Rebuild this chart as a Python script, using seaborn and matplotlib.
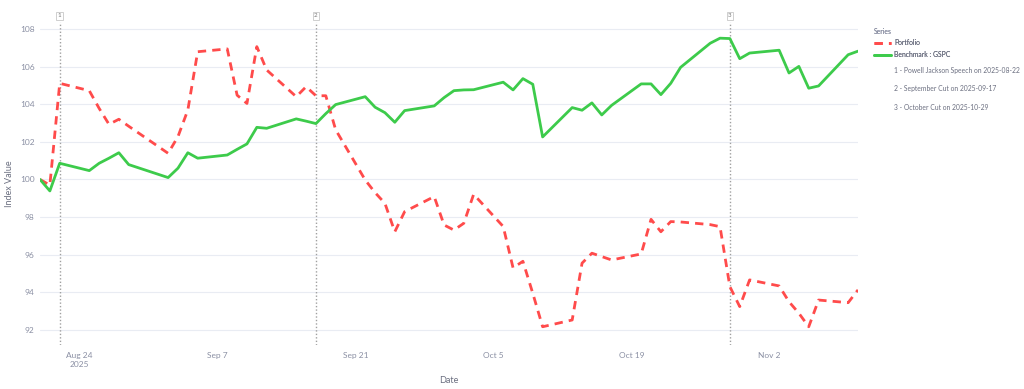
import pandas as pd
import numpy as np
import matplotlib
matplotlib.use("Agg")
import matplotlib.pyplot as plt
import matplotlib.transforms as mtransforms
from matplotlib.lines import Line2D
import seaborn as sns

# Dữ liệu (ngày giao dịch)
dates = [
    "2025-08-20", "2025-08-21", "2025-08-22", "2025-08-25", "2025-08-26", "2025-08-27", "2025-08-28", "2025-08-29",
    "2025-09-02", "2025-09-03", "2025-09-04", "2025-09-05", "2025-09-08", "2025-09-09", "2025-09-10", "2025-09-11",
    "2025-09-12", "2025-09-15", "2025-09-16", "2025-09-17", "2025-09-18", "2025-09-19", "2025-09-22", "2025-09-23",
    "2025-09-24", "2025-09-25", "2025-09-26", "2025-09-29", "2025-09-30", "2025-10-01", "2025-10-02", "2025-10-03",
    "2025-10-06", "2025-10-07", "2025-10-08", "2025-10-09", "2025-10-10", "2025-10-13", "2025-10-14", "2025-10-15",
    "2025-10-16", "2025-10-17", "2025-10-20", "2025-10-21", "2025-10-22", "2025-10-23", "2025-10-24", "2025-10-27",
    "2025-10-28", "2025-10-29", "2025-10-30", "2025-10-31", "2025-11-03", "2025-11-04", "2025-11-05", "2025-11-06",
    "2025-11-07", "2025-11-10", "2025-11-11",
]

portfolio = [
    100.00, 99.70, 105.11, 104.72, 103.78, 102.93, 103.20, 102.83,
    101.39, 102.28, 103.69, 106.79, 106.94, 104.48, 104.04, 107.06,
    105.82, 104.40, 104.93, 104.45, 104.45, 102.64, 99.97, 99.30,
    98.73, 97.22, 98.29, 99.09, 97.58, 97.31, 97.67, 99.21,
    97.50, 95.30, 95.65, 93.95, 92.17, 92.53, 95.55, 96.08,
    95.90, 95.72, 96.04, 97.88, 97.22, 97.76, 97.74, 97.60,
    97.49, 94.30, 93.24, 94.66, 94.34, 93.50, 92.89, 92.17,
    93.59, 93.45, 94.13,
]

benchmark = [
    100.00, 99.39, 100.86, 100.47, 100.86, 101.13, 101.42, 100.79,
    100.10, 100.60, 101.42, 101.13, 101.30, 101.60, 101.89, 102.77,
    102.72, 103.22, 103.10, 102.97, 103.50, 103.98, 104.40, 103.84,
    103.55, 103.04, 103.66, 103.91, 104.35, 104.72, 104.76, 104.77,
    105.17, 104.76, 105.36, 105.06, 102.26, 103.82, 103.68, 104.07,
    103.43, 103.94, 105.08, 105.08, 104.51, 105.11, 105.96, 107.24,
    107.51, 107.49, 106.42, 106.72, 106.87, 105.66, 106.01, 104.85,
    104.97, 106.63, 106.82,
]

event_dates = ["2025-08-22", "2025-09-17", "2025-10-29"]
event_labels = [
    "1 - Powell Jackson Speech on 2025-08-22",
    "2 - September Cut on 2025-09-17",
    "3 - October Cut on 2025-10-29",
]

xtick_dates = ["2025-08-24", "2025-09-07", "2025-09-21", "2025-10-05", "2025-10-19", "2025-11-02"]
xtick_labels = ["Aug 24\n2025", "Sep 7", "Sep 21", "Oct 5", "Oct 19", "Nov 2"]
ytick_values = [92, 94, 96, 98, 100, 102, 104, 106, 108]

RED = "#FF4B4B"
GREEN = "#3DCB4B"
TICK_COLOR = "#8A8FA3"
TEXT_COLOR = "#6B6F80"

sns.set_theme(style="white")
plt.rcParams["font.family"] = ["Lato", "DejaVu Sans"]

df = pd.DataFrame({
    "Date": pd.to_datetime(dates),
    "Portfolio": portfolio,
    "Benchmark : GSPC": benchmark,
})

fig = plt.figure(figsize=(10.24, 3.89), dpi=100)
ax = fig.add_axes([40 / 1024, 1 - 345 / 389, 818 / 1024, 323 / 389])

# Đường danh mục và chỉ số tham chiếu
sns.lineplot(data=df, x="Date", y="Portfolio", ax=ax, color=RED, linewidth=2,
             linestyle=(0, (3, 2.2)), label="Portfolio")
sns.lineplot(data=df, x="Date", y="Benchmark : GSPC", ax=ax, color=GREEN, linewidth=2,
             label="Benchmark : GSPC")

# Các đường sự kiện
trans = mtransforms.blended_transform_factory(ax.transData, ax.transAxes)
for i, d in enumerate(event_dates):
    dt = pd.Timestamp(d)
    ax.axvline(dt, color="#A0A0A0", linewidth=1, linestyle=(0, (1, 1.5)), zorder=1)
    ax.text(dt, 1.012, str(i + 1), transform=trans, ha="center", va="bottom",
            fontsize=4.5, color="#777777",
            bbox=dict(boxstyle="square,pad=0.25", fc="white", ec="#C8C8C8", lw=0.6))

ax.set_xlim(pd.Timestamp(dates[0]), pd.Timestamp(dates[-1]))
ax.set_ylim(91.2, 108.37)
ax.set_yticks(ytick_values)
ax.set_yticklabels([str(v) for v in ytick_values])
ax.set_xticks(pd.to_datetime(xtick_dates))
ax.set_xticklabels(xtick_labels, linespacing=1.3)
ax.tick_params(axis="both", length=0, labelsize=6, colors=TICK_COLOR)
ax.tick_params(axis="x", pad=5)
ax.tick_params(axis="y", pad=4)
ax.grid(axis="y", color="#E9ECF3", linewidth=0.8)
ax.grid(axis="x", visible=False)
for s in ax.spines.values():
    s.set_visible(False)

ax.set_xlabel("Date", fontsize=6.5, color=TEXT_COLOR)
ax.set_ylabel("Index Value", fontsize=6.5, color=TEXT_COLOR)
ax.xaxis.set_label_coords(0.5, -0.095)
ax.yaxis.set_label_coords(-0.032, 0.5)

# Chú thích
handles, labels = ax.get_legend_handles_labels()
if ax.get_legend():
    ax.get_legend().remove()
leg1 = fig.legend(handles, labels, title="Series", loc="upper left",
                  bbox_to_anchor=(871 / 1024, 1 - 25 / 389), frameon=False,
                  fontsize=4.9, title_fontsize=4.9, labelspacing=0.7,
                  handlelength=2.5, handletextpad=0.55, borderaxespad=0)
leg1._legend_box.align = "left"
leg1.get_title().set_color(TICK_COLOR)
for t in leg1.get_texts():
    t.set_color(TEXT_COLOR)

blank = [Line2D([], [], color="none") for _ in event_labels]
leg2 = fig.legend(blank, event_labels, loc="upper left",
                  bbox_to_anchor=(871 / 1024, 1 - 64 / 389), frameon=False,
                  fontsize=4.9, labelspacing=1.7, handlelength=2.5,
                  handletextpad=0.55, borderaxespad=0)
for t in leg2.get_texts():
    t.set_color(TEXT_COLOR)
fig.add_artist(leg1)

fig.savefig("out.png", dpi=100)
